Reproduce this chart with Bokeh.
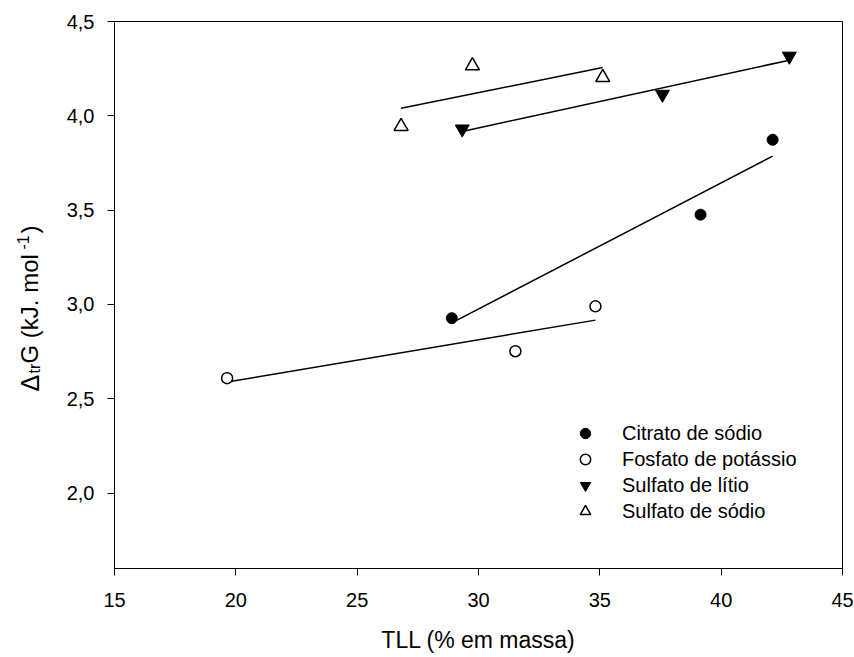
import numpy as np
from bokeh.plotting import figure
from bokeh.layouts import row
from bokeh.models import (Range1d, FixedTicker, CustomJSTickFormatter,
                          Legend, LegendItem)
from bokeh.core.properties import value
from bokeh.embed import file_html
from bokeh.resources import INLINE

# ---------------- data ----------------
series_names = ["Citrato de sódio", "Fosfato de potássio",
                "Sulfato de lítio", "Sulfato de sódio"]
citrato_x = [28.90, 39.15, 42.12]
citrato_y = [2.927, 3.476, 3.873]
fosfato_x = [19.64, 31.52, 34.82]
fosfato_y = [2.609, 2.752, 2.990]
litio_x = [29.33, 37.58, 42.81]
litio_y = [3.930, 4.114, 4.316]
sodio_x = [26.81, 29.75, 35.12]
sodio_y = [3.944, 4.265, 4.203]

x_ticks = [15, 20, 25, 30, 35, 40, 45]
y_ticks = [2.0, 2.5, 3.0, 3.5, 4.0, 4.5]
x_title = "TLL (% em massa)"
y_title_parts = ["Δ", "tr", "G (kJ. mol", "-1", ")"]

X0, X1 = 15, 45
Y0, Y1 = 1.6, 4.5

FONT = "Liberation Sans"
H = 657
LABW = 60            # width of the strip that holds the y title
FRAME_L = 114        # canvas x of the plot frame's left edge
FRAME_W, FRAME_H = 728, 547
TOP = 21

# ---------------- main plot ----------------
p = figure(frame_width=FRAME_W, frame_height=FRAME_H,
           x_range=Range1d(X0, X1), y_range=Range1d(Y0, Y1),
           output_backend="svg", toolbar_location=None, align="start",
           min_border_left=FRAME_L - LABW, min_border_right=12,
           min_border_top=TOP, min_border_bottom=88)
p.xgrid.visible = False
p.ygrid.visible = False
p.outline_line_color = "black"
p.outline_line_width = 1
p.background_fill_color = "white"
p.border_fill_color = "white"

for ax in (p.xaxis[0], p.yaxis[0]):
    ax.axis_line_color = "black"
    ax.axis_line_width = 1
    ax.major_tick_line_color = "black"
    ax.major_tick_in = 0
    ax.major_tick_out = 7
    ax.minor_tick_line_color = None
    ax.major_label_text_font = FONT
    ax.major_label_text_font_size = "20px"
    ax.major_label_text_color = "black"

p.xaxis.ticker = FixedTicker(ticks=x_ticks)
p.yaxis.ticker = FixedTicker(ticks=y_ticks)
p.yaxis.formatter = CustomJSTickFormatter(code="return tick.toFixed(1).replace('.', ',');")
p.xaxis.major_label_standoff = 17
p.yaxis.major_label_standoff = 13

p.xaxis.axis_label = x_title
p.xaxis.axis_label_text_font = FONT
p.xaxis.axis_label_text_font_size = "23px"
p.xaxis.axis_label_text_font_style = "normal"
p.xaxis.axis_label_text_color = "black"
p.xaxis.axis_label_standoff = 17

# ---------------- regression lines ----------------
series = [(citrato_x, citrato_y), (fosfato_x, fosfato_y),
          (litio_x, litio_y), (sodio_x, sodio_y)]
for xs, ys in series:
    coef = np.polyfit(xs, ys, 1)
    lx = np.array([min(xs), max(xs)])
    p.line(lx, np.polyval(coef, lx), line_color="black", line_width=1.5)

# ---------------- markers ----------------
r1 = p.scatter(citrato_x, citrato_y, marker="circle", size=11,
               fill_color="black", line_color="black", line_width=1)
r2 = p.scatter(fosfato_x, fosfato_y, marker="circle", size=11,
               fill_color="white", line_color="black", line_width=1.5)
r3 = p.scatter(litio_x, litio_y, marker="inverted_triangle", size=14,
               fill_color="black", line_color="black", line_width=1)
r4 = p.scatter(sodio_x, sodio_y, marker="triangle", size=14,
               fill_color="white", line_color="black", line_width=1.5)

legend = Legend(items=[LegendItem(label=n, renderers=[r])
                       for n, r in zip(series_names, [r1, r2, r3, r4])],
                location=(458, 44), padding=0, margin=0, spacing=0,
                glyph_width=26, glyph_height=26, label_height=26,
                label_standoff=24, border_line_color=None,
                background_fill_alpha=0,
                label_text_font=FONT, label_text_font_size="20px",
                label_text_color="black")
p.add_layout(legend)

# ---------------- y title strip (rotated text with sub/superscript) ----------------
lab = figure(frame_width=LABW, frame_height=H, x_range=Range1d(0, LABW),
             y_range=Range1d(0, H), x_axis_type=None, y_axis_type=None,
             output_backend="svg", toolbar_location=None, align="start",
             min_border=0, min_border_left=0, min_border_right=0,
             min_border_top=0, min_border_bottom=0)
lab.xgrid.visible = False
lab.ygrid.visible = False
lab.outline_line_color = None
lab.background_fill_color = "white"
lab.border_fill_color = "white"

# canvas positions (top-down y) of each piece: start along the text, baseline x
piece_y = [370, 352, 342, 228, 212]
piece_x = [29, 34, 29, 22, 29]
piece_size = ["25px", "16px", "24px", "16px", "24px"]
for txt, cy, cx, fs in zip(y_title_parts, piece_y, piece_x, piece_size):
    lab.text(x=[cx], y=[H - cy], text=[txt], angle=np.pi / 2,
             text_align="left", text_baseline="alphabetic",
             text_font=value(FONT), text_font_size=value(fs),
             text_color="black")

layout = row(lab, p, spacing=0)
open("out.html", "w").write(file_html(layout, INLINE))
